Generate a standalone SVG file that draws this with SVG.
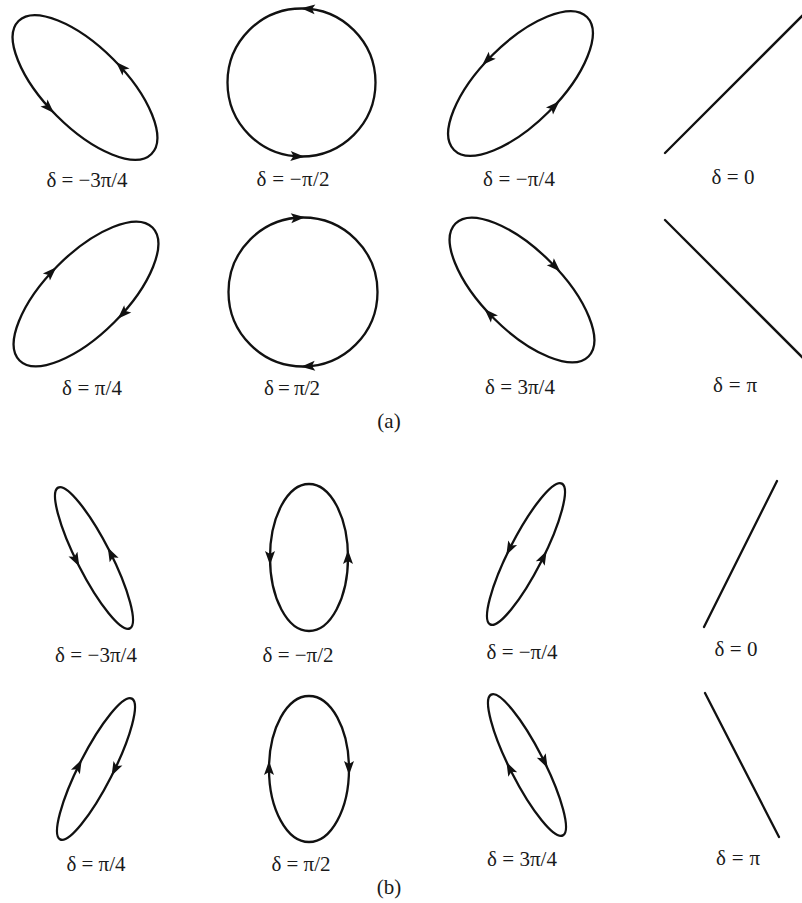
<svg xmlns="http://www.w3.org/2000/svg" xmlns:xlink="http://www.w3.org/1999/xlink" width="802" height="903" viewBox="0 0 802 903">
<style>
.c{fill:none;stroke:#111;stroke-width:2.3}
.ln{fill:none;stroke:#111;stroke-width:2.3;stroke-linecap:round}
.ah{fill:#111;stroke:none}
.lbl{font-family:"Liberation Serif","Times New Roman",serif;font-size:21px;text-anchor:middle;fill:#1a1a1a}
</style>
<defs>
<path id="ah" class="ah" d="M7,0 L-7,-5 L-4,0 L-7,5 Z"/>
</defs>
<rect width="802" height="903" fill="#fff"/>

<!-- Panel (a) row 1 -->
<g id="a-m3pi4">
<g transform="translate(85,87.5) rotate(45)">
<ellipse class="c" rx="94" ry="40"/>
<use xlink:href="#ah" transform="translate(11,-40) rotate(180)"/>
<use xlink:href="#ah" transform="translate(-11,40)"/>
</g>
<text class="lbl" x="87" y="187" textLength="81" lengthAdjust="spacing">δ = −3π/4</text>
</g>
<g id="a-mpi2">
<circle class="c" cx="301.5" cy="82.5" r="74"/>
<use xlink:href="#ah" transform="translate(308,8.8) rotate(184.6)"/>
<use xlink:href="#ah" transform="translate(297.5,156.3) rotate(3)"/>
<text class="lbl" x="293" y="186" textLength="73" lengthAdjust="spacing">δ = −π/2</text>
</g>
<g id="a-mpi4">
<g transform="translate(520.5,83.5) rotate(-45)">
<ellipse class="c" rx="94" ry="40"/>
<use xlink:href="#ah" transform="translate(-7,-40) rotate(180)"/>
<use xlink:href="#ah" transform="translate(8,40)"/>
</g>
<text class="lbl" x="519" y="186" textLength="72" lengthAdjust="spacing">δ = −π/4</text>
</g>
<g id="a-0">
<line class="ln" x1="665" y1="153" x2="809" y2="9"/>
<text class="lbl" x="733" y="184" textLength="43" lengthAdjust="spacing">δ = 0</text>
</g>

<!-- Panel (a) row 2 -->
<g id="a-pi4">
<g transform="translate(86,294) rotate(-45)">
<ellipse class="c" rx="94" ry="40"/>
<use xlink:href="#ah" transform="translate(-9,-40)"/>
<use xlink:href="#ah" transform="translate(12,40) rotate(180)"/>
</g>
<text class="lbl" x="92" y="395" textLength="60" lengthAdjust="spacing">δ = π/4</text>
</g>
<g id="a-pi2">
<circle class="c" cx="303" cy="292" r="74.5"/>
<use xlink:href="#ah" transform="translate(298,217.7) rotate(-3.9)"/>
<use xlink:href="#ah" transform="translate(308,366.3) rotate(176)"/>
<text class="lbl" x="292" y="395" textLength="56" lengthAdjust="spacing">δ = π/2</text>
</g>
<g id="a-3pi4">
<g transform="translate(522,290) rotate(45)">
<ellipse class="c" rx="94" ry="40"/>
<use xlink:href="#ah" transform="translate(7,-40)"/>
<use xlink:href="#ah" transform="translate(-6,40) rotate(180)"/>
</g>
<text class="lbl" x="520" y="394" textLength="70" lengthAdjust="spacing">δ = 3π/4</text>
</g>
<g id="a-pi">
<line class="ln" x1="665" y1="220" x2="809" y2="364"/>
<text class="lbl" x="735" y="392" textLength="44" lengthAdjust="spacing">δ = π</text>
</g>
<text id="label-a" class="lbl" x="389" y="428">(a)</text>

<!-- Panel (b) row 1 -->
<g id="b-m3pi4">
<g transform="translate(94,558) rotate(63)">
<ellipse class="c" rx="79" ry="17"/>
<use xlink:href="#ah" transform="translate(-6,17)"/>
<use xlink:href="#ah" transform="translate(4,-17) rotate(180)"/>
</g>
<text class="lbl" x="96" y="662" textLength="82" lengthAdjust="spacing">δ = −3π/4</text>
</g>
<g id="b-mpi2">
<ellipse class="c" cx="309" cy="557.5" rx="39" ry="73.5"/>
<use xlink:href="#ah" transform="translate(270,558) rotate(90)"/>
<use xlink:href="#ah" transform="translate(348,557) rotate(-90)"/>
<text class="lbl" x="298" y="662" textLength="71" lengthAdjust="spacing">δ = −π/2</text>
</g>
<g id="b-mpi4">
<g transform="translate(526,554) rotate(-63)">
<ellipse class="c" rx="79" ry="17"/>
<use xlink:href="#ah" transform="translate(-3,-17) rotate(180)"/>
<use xlink:href="#ah" transform="translate(5,17)"/>
</g>
<text class="lbl" x="522" y="659" textLength="71" lengthAdjust="spacing">δ = −π/4</text>
</g>
<g id="b-0">
<line class="ln" x1="704" y1="627" x2="777" y2="481"/>
<text class="lbl" x="736" y="656" textLength="43" lengthAdjust="spacing">δ = 0</text>
</g>

<!-- Panel (b) row 2 -->
<g id="b-pi4">
<g transform="translate(96,769) rotate(-63)">
<ellipse class="c" rx="79" ry="17"/>
<use xlink:href="#ah" transform="translate(-5,-17)"/>
<use xlink:href="#ah" transform="translate(8,17) rotate(180)"/>
</g>
<text class="lbl" x="96" y="871" textLength="59" lengthAdjust="spacing">δ = π/4</text>
</g>
<g id="b-pi2">
<ellipse class="c" cx="309" cy="769" rx="40" ry="73"/>
<use xlink:href="#ah" transform="translate(269,768) rotate(-90)"/>
<use xlink:href="#ah" transform="translate(349,768) rotate(90)"/>
<text class="lbl" x="301" y="871" textLength="59" lengthAdjust="spacing">δ = π/2</text>
</g>
<g id="b-3pi4">
<g transform="translate(527,765) rotate(63)">
<ellipse class="c" rx="79" ry="17"/>
<use xlink:href="#ah" transform="translate(5,-17)"/>
<use xlink:href="#ah" transform="translate(-5,17) rotate(180)"/>
</g>
<text class="lbl" x="522" y="866" textLength="70" lengthAdjust="spacing">δ = 3π/4</text>
</g>
<g id="b-pi">
<line class="ln" x1="705" y1="693" x2="779" y2="837"/>
<text class="lbl" x="738" y="865" textLength="44" lengthAdjust="spacing">δ = π</text>
</g>
<text id="label-b" class="lbl" x="389" y="894">(b)</text>
</svg>
